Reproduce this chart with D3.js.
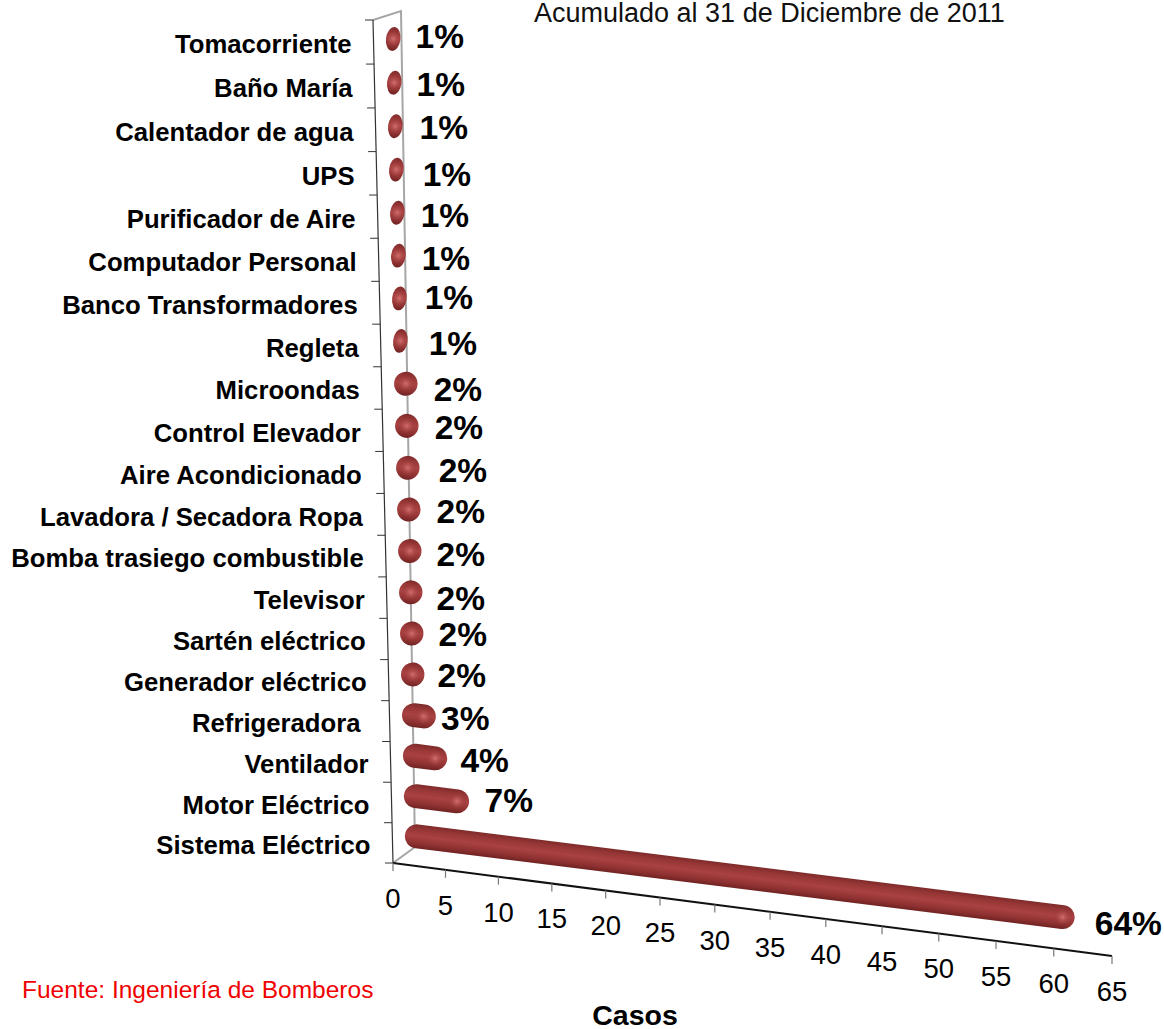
<html>
<head>
	<title>Casos por equipo</title>
	<script src="https://d3js.org/d3.v7.min.js"></script>
	<style type="text/css">
		body { margin: 0; background: #fff; }
		svg { display: block; }
		text { font-family: "Liberation Sans", Arial, sans-serif; white-space: pre; }
	</style>
</head>
<body>
<div id="chart"></div>

<script type="text/javascript">
// data, listed from the front of the chart to the back
var categories = ["Sistema Eléctrico", "Motor Eléctrico", "Ventilador", "Refrigeradora ",
	"Generador eléctrico", "Sartén eléctrico", "Televisor", "Bomba trasiego combustible",
	"Lavadora / Secadora Ropa", "Aire Acondicionado", "Control Elevador", "Microondas",
	"Regleta", "Banco Transformadores", "Computador Personal", "Purificador de Aire",
	"UPS", "Calentador de agua", "Baño María", "Tomacorriente"];
var casos = [61, 6, 4, 3, 2, 2, 2, 2, 2, 2, 2, 2, 1, 1, 1, 1, 1, 1, 1, 1];
var porcentajes = ["64%", "7%", "4%", "3%", "2%", "2%", "2%", "2%", "2%", "2%", "2%", "2%",
	"1%", "1%", "1%", "1%", "1%", "1%", "1%", "1%"];
var valueTicks = d3.range(0, 70, 5);

var titulo = "Acumulado al 31 de Diciembre de 2011";
var fuente = "Fuente: Ingeniería de Bomberos";
var ejeTitulo = "Casos";

// the percent labels were placed by hand in the original, so each gets a small nudge
var pctGap = [15, 15, 13, 5, 13, 15, 14, 15, 16, 19, 16, 16, 21, 18, 16, 16, 19, 17, 15, 15];
var pctDy = [4, -3, 0, 0, -1, -1, 4, 1, 0, 1, 0, 4, 1, -2, 1, 1, 3, 0, 0, -4];

var width = 1164, height = 1029;
var origin = { x: 393, y: 863 };
var valueEnd = { x: 1112, y: 956 };
var catEnd = { x: 373, y: 20 };
var floorBack = { x: 415, y: 847 };
var wallTop = { x: 401, y: 11 };
var barH = 24, barSlope = 0.125;

// linear scale followed by a perspective bend
function perspective(domainMax, rangeMax, bend) {
	var s = d3.scaleLinear().domain([0, domainMax]).range([0, 1]);
	return function(v) {
		var t = s(v);
		return rangeMax * t * (1 - bend) / (1 - bend * t);
	};
}

var xDist = perspective(65, valueEnd.x - origin.x, 0.0548);
var yDist = perspective(20, origin.y - catEnd.y, 0.046);

function axisX(px) { // x of the category axis at height px
	return origin.x + (catEnd.x - origin.x) * (origin.y - px) / (origin.y - catEnd.y);
}
function rowMid(i) { return origin.y - (yDist(i) + yDist(i + 1)) / 2; }

var depthY = d3.scaleLinear().domain([0, 19]).range([-8, -4]);
function barY(i) { return rowMid(i) + depthY(i); }
function barX(i) { return axisX(barY(i)) + 12.6; }
function barW(i) { return Math.max(14.5, xDist(casos[i]) + 2.5); }

var svg = d3.select("#chart").append("svg")
	.attr("width", width)
	.attr("height", height);

var defs = svg.append("defs");
var grad = defs.append("linearGradient")
	.attr("id", "barFill")
	.attr("x1", 0).attr("y1", 0).attr("x2", 0).attr("y2", 1);
[[0, "#7d2a2a"], [0.2, "#973636"], [0.48, "#a94242"], [0.8, "#8f3131"], [1, "#6f2222"]].forEach(function(d) {
	grad.append("stop").attr("offset", d[0]).attr("stop-color", d[1]);
});
var glow = defs.append("radialGradient").attr("id", "barGlow");
glow.append("stop").attr("offset", 0).attr("stop-color", "#d67474").attr("stop-opacity", 0.9);
glow.append("stop").attr("offset", 1).attr("stop-color", "#a84444").attr("stop-opacity", 0);

// walls
svg.append("path")
	.attr("d", d3.line()([[catEnd.x, catEnd.y], [wallTop.x, wallTop.y], [floorBack.x, floorBack.y], [origin.x, origin.y]]))
	.attr("fill", "none")
	.attr("stroke", "#a6a6a6")
	.attr("stroke-width", 2);

// category axis
svg.append("line")
	.attr("x1", origin.x).attr("y1", origin.y)
	.attr("x2", catEnd.x).attr("y2", catEnd.y)
	.attr("stroke", "#333")
	.attr("stroke-width", 1.2);

svg.selectAll(".cat-tick")
	.data(d3.range(0, categories.length + 1))
	.enter().append("line")
	.attr("class", "cat-tick")
	.attr("x1", function(d) { return axisX(origin.y - yDist(d)); })
	.attr("x2", function(d) { return axisX(origin.y - yDist(d)) - 8; })
	.attr("y1", function(d) { return origin.y - yDist(d); })
	.attr("y2", function(d) { return origin.y - yDist(d); })
	.attr("stroke", "#333")
	.attr("stroke-width", 1);

svg.selectAll(".cat-label")
	.data(categories)
	.enter().append("text")
	.attr("class", "cat-label")
	.attr("x", function(d, i) { return axisX(rowMid(i)) - 22; })
	.attr("y", function(d, i) { return rowMid(i) + 2; })
	.attr("dy", "0.36em")
	.attr("text-anchor", "end")
	.attr("font-size", 25.7)
	.attr("font-weight", "bold")
	.text(function(d) { return d; });

// value axis
svg.append("line")
	.attr("x1", origin.x).attr("y1", origin.y)
	.attr("x2", valueEnd.x).attr("y2", valueEnd.y)
	.attr("stroke", "#111")
	.attr("stroke-width", 2);

function axisPx(v) { return origin.x + xDist(v); }
function axisPy(v) { return origin.y + xDist(v) * (valueEnd.y - origin.y) / (valueEnd.x - origin.x); }

svg.selectAll(".val-tick")
	.data(valueTicks)
	.enter().append("line")
	.attr("class", "val-tick")
	.attr("x1", axisPx).attr("x2", axisPx)
	.attr("y1", axisPy)
	.attr("y2", function(d) { return axisPy(d) + 8; })
	.attr("stroke", "#777")
	.attr("stroke-width", 1.2);

svg.selectAll(".val-label")
	.data(valueTicks)
	.enter().append("text")
	.attr("class", "val-label")
	.attr("x", axisPx)
	.attr("y", function(d) { return axisPy(d) + 35; })
	.attr("dy", "0.36em")
	.attr("text-anchor", "middle")
	.attr("font-size", 27.5)
	.text(function(d) { return d; });

// bars
var bar = svg.selectAll(".bar")
	.data(casos)
	.enter().append("g")
	.attr("class", "bar")
	.attr("transform", function(d, i) {
		return "translate(" + barX(i) + "," + barY(i) + ") rotate(" + (Math.atan(barSlope) * 180 / Math.PI) + ")";
	});

bar.append("rect")
	.attr("x", 0)
	.attr("y", -barH / 2)
	.attr("width", function(d, i) { return barW(i); })
	.attr("height", barH)
	.attr("rx", function(d, i) { return Math.min(barW(i) / 2, barH / 2); })
	.attr("ry", barH / 2)
	.attr("fill", "url(#barFill)");

bar.append("ellipse")
	.attr("cx", function(d, i) { return barW(i) - Math.min(barW(i) / 2, barH / 2); })
	.attr("cy", 0)
	.attr("rx", function(d, i) { return Math.min(barW(i) / 2, 8); })
	.attr("ry", 8)
	.attr("fill", "url(#barGlow)");

// percent labels
svg.selectAll(".pct")
	.data(porcentajes)
	.enter().append("text")
	.attr("class", "pct")
	.attr("x", function(d, i) { return barX(i) + barW(i) + pctGap[i]; })
	.attr("y", function(d, i) { return barY(i) + barW(i) * barSlope + pctDy[i]; })
	.attr("dy", "0.36em")
	.attr("font-size", 33.5)
	.attr("font-weight", "bold")
	.text(function(d) { return d; });

// texts
svg.append("text")
	.attr("x", 534).attr("y", 22)
	.attr("font-size", 27)
	.attr("fill", "#111")
	.text(titulo);

svg.append("text")
	.attr("x", 22).attr("y", 998)
	.attr("font-size", 24.5)
	.attr("fill", "#f00000")
	.text(fuente);

svg.append("text")
	.attr("x", 635).attr("y", 1025)
	.attr("text-anchor", "middle")
	.attr("font-size", 28.5)
	.attr("font-weight", "bold")
	.text(ejeTitulo);
</script>
</body>
</html>
